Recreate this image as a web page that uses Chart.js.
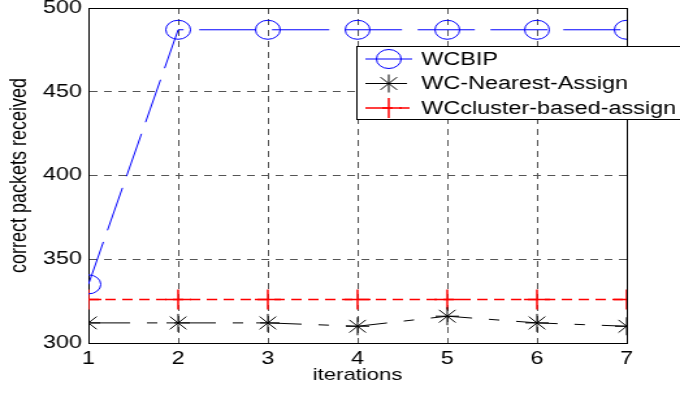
<!DOCTYPE html>
<html>
<head>
<meta charset="utf-8">
<script src="https://cdn.jsdelivr.net/npm/chart.js@4"></script>
<style>
  html, body { margin: 0; padding: 0; background: #fff; overflow: hidden; }
  #wrap { width: 680px; height: 394px; overflow: hidden; }
  /* the source figure is stretched sideways, so the canvas is too */
  #chart { transform-origin: 0 0; transform: scaleX(1.30019); }
</style>
</head>
<body>
<div id="wrap"><canvas id="chart" width="523" height="394"></canvas></div>
<script>
const iterations = [1, 2, 3, 4, 5, 6, 7];
const wcbip = [335, 487, 487, 487, 487, 487, 487];
const wcNearest = [312, 312, 312, 310, 316, 312, 310];
const wcCluster = [326, 326, 326, 326, 326, 326, 326];
const seriesNames = ['WCBIP', 'WC-Nearest-Assign', 'WCcluster-based-assign'];
const yTicks = [300, 350, 400, 450, 500];

const FONT = '"Liberation Sans", Arial, sans-serif';

const toPoints = (values) => values.map((v, i) => ({ x: iterations[i], y: v }));

// draws the box round the plot area
const frame = {
    id: 'frame',
    beforeDatasetsDraw(chart) {
        const { ctx, chartArea: a } = chart;
        ctx.save();
        ctx.strokeStyle = '#000';
        ctx.lineWidth = 1;
        ctx.setLineDash([]);
        ctx.strokeRect(Math.round(a.left) + 0.5, Math.round(a.top) + 0.5,
            Math.round(a.right - a.left), Math.round(a.bottom - a.top));
        ctx.restore();
    }
};

// matlab style legend: line sample with the marker on it
const legendBox = {
    id: 'legendBox',
    afterDatasetsDraw(chart) {
        const ctx = chart.ctx;
        ctx.save();
        ctx.fillStyle = '#fff';
        ctx.fillRect(274, 46, 270, 73);
        ctx.strokeStyle = '#000';
        ctx.lineWidth = 1;
        ctx.strokeRect(274.5, 46.5, 270, 73);
        chart.data.datasets.forEach((ds, i) => {
            const y = 59 + i * 24.5;
            ctx.strokeStyle = ds.borderColor;
            ctx.lineWidth = ds.borderWidth;
            ctx.setLineDash(ds.borderDash || []);
            ctx.beginPath();
            ctx.moveTo(281, y);
            ctx.lineTo(317, y);
            ctx.stroke();
            ctx.setLineDash([]);
            ctx.fillStyle = 'rgba(0,0,0,0)';
            Chart.helpers.drawPoint(ctx, {
                pointStyle: ds.pointStyle,
                radius: ds.pointRadius,
                borderWidth: ds.pointBorderWidth,
                rotation: 0
            }, 299, y);
            ctx.fillStyle = '#000';
            ctx.font = '18px ' + FONT;
            ctx.textBaseline = 'middle';
            ctx.textAlign = 'left';
            ctx.fillText(ds.label, 324, y + 1);
        });
        ctx.restore();
    }
};

const ctx = document.getElementById('chart').getContext('2d');

new Chart(ctx, {
    type: 'line',
    data: {
        datasets: [
            {
                label: seriesNames[0],
                data: toPoints(wcbip),
                borderColor: '#0000ff',
                borderWidth: 1,
                borderDash: [44, 12],
                pointStyle: 'circle',
                pointRadius: 9.5,
                pointBorderColor: '#0000ff',
                pointBackgroundColor: 'rgba(0,0,0,0)',
                pointBorderWidth: 1
            },
            {
                label: seriesNames[1],
                data: toPoints(wcNearest),
                borderColor: '#000000',
                borderWidth: 1,
                borderDash: [32, 13, 8, 13],
                pointStyle: 'star',
                pointRadius: 9,
                pointBorderColor: '#000000',
                pointBackgroundColor: 'rgba(0,0,0,0)',
                pointBorderWidth: 1
            },
            {
                label: seriesNames[2],
                data: toPoints(wcCluster),
                borderColor: '#ff0000',
                borderWidth: 1.5,
                borderDash: [8, 5],
                pointStyle: 'cross',
                pointRadius: 10,
                pointBorderColor: '#ff0000',
                pointBackgroundColor: 'rgba(0,0,0,0)',
                pointBorderWidth: 1.5
            }
        ]
    },
    options: {
        responsive: false,
        devicePixelRatio: 1,
        animation: false,
        layout: { autoPadding: false, padding: { top: 8, right: 41, left: 0, bottom: 0 } },
        plugins: {
            legend: { display: false },
            tooltip: { enabled: false }
        },
        scales: {
            x: {
                type: 'linear',
                min: 1,
                max: 7,
                afterBuildTicks: (axis) => { axis.ticks = iterations.map(v => ({ value: v })); },
                afterFit: (axis) => {
                    axis.height = 51;
                    axis.paddingLeft = 0;
                    axis.paddingRight = 0;
                },
                grid: { color: '#555', lineWidth: 1, drawTicks: false },
                border: { display: true, color: '#000', dash: [6, 5] },
                ticks: {
                    color: '#000',
                    padding: 5,
                    font: { family: FONT, size: 18 }
                },
                title: {
                    display: true,
                    text: 'iterations',
                    color: '#000',
                    padding: { top: 0, bottom: 8 },
                    font: { family: FONT, size: 17 }
                }
            },
            y: {
                min: 300,
                max: 500,
                afterBuildTicks: (axis) => { axis.ticks = yTicks.map(v => ({ value: v })); },
                afterFit: (axis) => {
                    axis.width = 68;
                    axis.paddingTop = 0;
                    axis.paddingBottom = 0;
                },
                grid: { color: '#555', lineWidth: 1, drawTicks: false },
                border: { display: true, color: '#000', dash: [6, 5] },
                ticks: {
                    color: '#000',
                    padding: 5,
                    font: { family: FONT, size: 18 }
                },
                title: {
                    display: true,
                    text: 'correct packets received',
                    color: '#000',
                    padding: { top: 4, bottom: 0 },
                    font: { family: FONT, size: 18 }
                }
            }
        }
    },
    plugins: [frame, legendBox]
});
</script>
</body>
</html>
